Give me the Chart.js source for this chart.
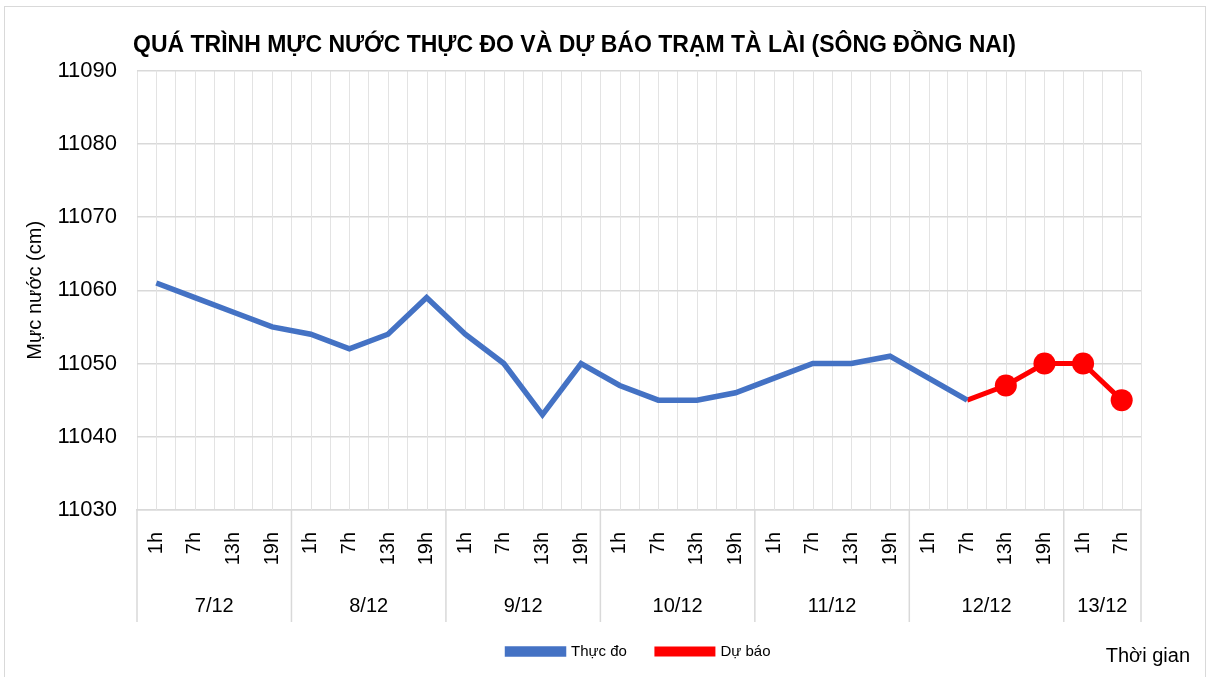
<!DOCTYPE html>
<html>
<head>
<meta charset="utf-8">
<script src="https://cdn.jsdelivr.net/npm/chart.js@4.4.1/dist/chart.umd.min.js"></script>
<style>
  html, body { margin: 0; padding: 0; background: #fff; }
  #wrap { width: 1211px; height: 677px; position: relative; }
</style>
</head>
<body>
<div id="wrap"><canvas id="chart"></canvas></div>
<script>
const hours = ['1h', '7h', '13h', '19h', '1h', '7h', '13h', '19h', '1h', '7h', '13h', '19h',
    '1h', '7h', '13h', '19h', '1h', '7h', '13h', '19h', '1h', '7h', '13h', '19h', '1h', '7h'];
const days = ['7/12', '8/12', '9/12', '10/12', '11/12', '12/12', '13/12'];
const daySizes = [4, 4, 4, 4, 4, 4, 2];
const yTicks = [11030, 11040, 11050, 11060, 11070, 11080, 11090];

const observed = [11061, 11059, 11057, 11055, 11054, 11052, 11054, 11059,
    11054, 11050, 11043, 11050, 11047, 11045, 11045, 11046,
    11048, 11050, 11050, 11051, 11048, 11045,
    null, null, null, null];
const forecast = [null, null, null, null, null, null, null, null,
    null, null, null, null, null, null, null, null,
    null, null, null, null, null, 11045,
    11047, 11050, 11050, 11045];

const FONT = 'Liberation Sans';

// extra grid lines at category centres, day boxes under the axis, axis name, frame
const extras = {
    id: 'extras',
    beforeDatasetsDraw(chart) {
        const ctx = chart.ctx, x = chart.scales.x, a = chart.chartArea;
        ctx.save();
        ctx.strokeStyle = '#e3e3e3';
        ctx.lineWidth = 1;
        for (let i = 0; i < hours.length; i++) {
            const px = Math.round(x.getPixelForValue(i)) + 0.5;
            ctx.beginPath();
            ctx.moveTo(px, a.top);
            ctx.lineTo(px, a.bottom);
            ctx.stroke();
        }
        ctx.restore();
    },
    afterDraw(chart) {
        const ctx = chart.ctx, x = chart.scales.x, a = chart.chartArea;
        ctx.save();
        ctx.strokeStyle = '#d9d9d9';
        ctx.lineWidth = 1.5;
        let start = 0;
        const bottom = a.bottom + 112;
        const edges = [start];
        daySizes.forEach(n => { start += n; edges.push(start); });
        edges.forEach(e => {
            const px = x.getPixelForValue(e - 0.5);
            ctx.beginPath();
            ctx.moveTo(px, a.bottom);
            ctx.lineTo(px, bottom);
            ctx.stroke();
        });
        ctx.fillStyle = '#000';
        ctx.font = '20px ' + FONT;
        ctx.textAlign = 'center';
        ctx.textBaseline = 'middle';
        days.forEach((d, i) => {
            const l = x.getPixelForValue(edges[i] - 0.5);
            const r = x.getPixelForValue(edges[i + 1] - 0.5);
            ctx.fillText(d, (l + r) / 2, a.bottom + 96);
        });
        ctx.textAlign = 'right';
        ctx.fillText('Thời gian', 1190, 656);
        ctx.strokeStyle = '#d9d9d9';
        ctx.lineWidth = 1;
        ctx.strokeRect(4.5, 6.5, 1201, 680);
        ctx.restore();
    }
};

const ctx = document.getElementById('chart').getContext('2d');
const chart = new Chart(ctx, {
    type: 'line',
    data: {
        labels: hours,
        datasets: [{
            label: 'Thực đo',
            data: observed,
            borderColor: '#4472C4',
            backgroundColor: '#4472C4',
            borderWidth: 5.5,
            pointRadius: 0,
            tension: 0
        }, {
            label: 'Dự báo',
            data: forecast,
            borderColor: '#FF0000',
            backgroundColor: '#FF0000',
            borderWidth: 5,
            pointRadius: [0, 0, 0, 0, 0, 0, 0, 0, 0, 0, 0, 0, 0, 0, 0, 0, 0, 0, 0, 0, 0, 0, 11, 11, 11, 11],
            pointBorderWidth: 0,
            tension: 0
        }]
    },
    options: {
        responsive: true,
        maintainAspectRatio: false,
        animation: false,
        layout: { padding: { top: 20, left: 8, right: 70, bottom: 8 } },
        plugins: {
            title: {
                display: true,
                text: 'QUÁ TRÌNH MỰC NƯỚC THỰC ĐO VÀ DỰ BÁO TRẠM TÀ LÀI (SÔNG ĐỒNG NAI)',
                color: '#000',
                font: { family: FONT, size: 23, weight: 'bold' },
                padding: { top: 12, bottom: 11 }
            },
            legend: {
                position: 'bottom',
                fullSize: false,
                labels: {
                    color: '#000',
                    font: { family: FONT, size: 15 },
                    boxWidth: 56,
                    boxHeight: 5,
                    padding: 30
                }
            },
            tooltip: { enabled: false }
        },
        scales: {
            x: {
                offset: true,
                grid: { color: '#e3e3e3', lineWidth: 1, drawTicks: false, offset: true },
                border: { color: '#d9d9d9', width: 1.5 },
                ticks: {
                    color: '#000',
                    font: { family: FONT, size: 20 },
                    minRotation: 90,
                    maxRotation: 90,
                    autoSkip: false,
                    padding: 22
                },
                afterFit(scale) { scale.height = 104; }
            },
            y: {
                min: 11030,
                max: 11090,
                afterBuildTicks(scale) { scale.ticks = yTicks.map(v => ({ value: v })); },
                grid: { color: '#d9d9d9', lineWidth: 1.5, drawTicks: false },
                border: { display: false },
                ticks: {
                    color: '#000',
                    font: { family: FONT, size: 22 },
                    padding: 20,
                    callback: v => String(v)
                },
                title: {
                    display: true,
                    text: 'Mực nước (cm)',
                    color: '#000',
                    font: { family: FONT, size: 20 },
                    padding: { top: 15, bottom: 0 }
                },
                afterFit(scale) { scale.width = 129; }
            }
        }
    },
    plugins: [extras]
});
</script>
</body>
</html>
